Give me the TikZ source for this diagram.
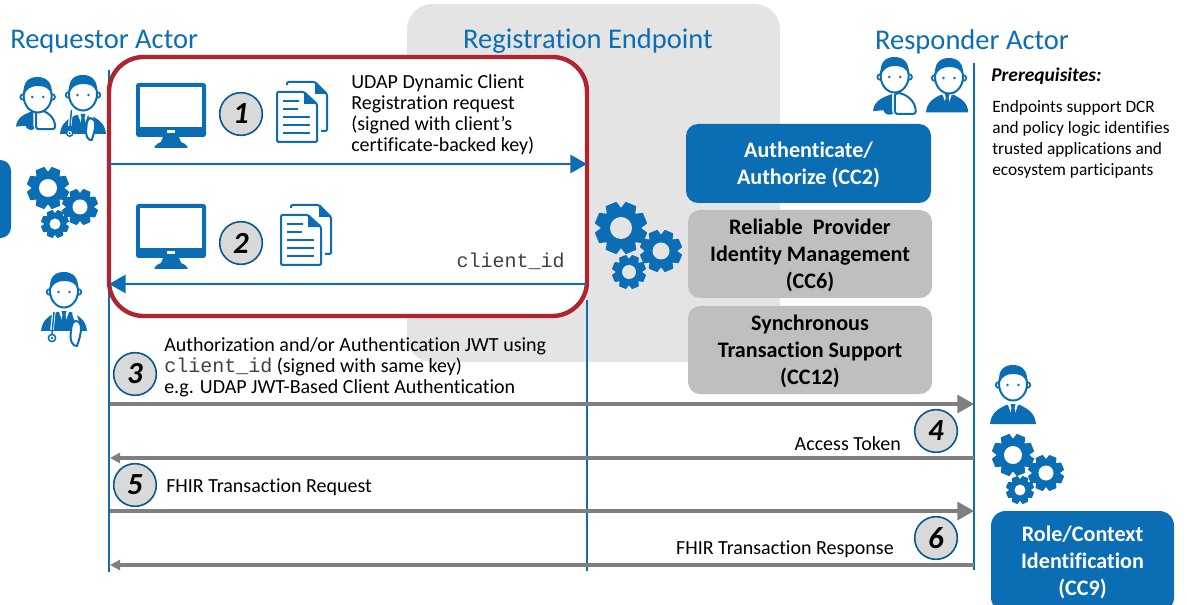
\documentclass[tikz,border=0pt]{standalone}
\usepackage{fontspec}
\setmainfont[Ligatures=CommonOff]{Carlito}
\setmonofont{Liberation Mono}
\usetikzlibrary{arrows.meta}
\definecolor{udapblue}{HTML}{0B6EB4}
\definecolor{udapred}{HTML}{B0232F}
\definecolor{udapgray}{HTML}{BFBFBF}
\definecolor{udaparrow}{HTML}{7F7F7F}
\definecolor{udapback}{HTML}{E4E4E4}
\tikzstyle{actor} = [text=udapblue, inner sep=0pt, font=\fontsize{21.4}{26}\selectfont]
\tikzstyle{label} = [inner sep=0pt, anchor=west, align=left, font=\fontsize{15}{15.9}\selectfont]
\tikzstyle{small} = [inner sep=0pt, anchor=north west, align=left, font=\fontsize{13}{15.8}\selectfont]
\tikzstyle{stepnum} = [circle, minimum size=32pt, inner sep=0pt, draw=udapblue!80!black, line width=1.2pt, fill=black!15, font=\fontsize{23}{24}\selectfont\bfseries\itshape]
\tikzstyle{bluebox} = [rectangle, rounded corners=9pt, minimum width=183.75pt, minimum height=59.25pt, align=center, fill=udapblue, text=white, inner sep=0pt, font=\fontsize{16.6}{20.3}\selectfont\bfseries]
\tikzstyle{graybox} = [rectangle, rounded corners=9pt, minimum width=183pt, minimum height=66pt, align=center, fill=udapgray, inner sep=0pt, font=\fontsize{16.6}{20.3}\selectfont\bfseries]
\tikzstyle{arrow} = [line width=2.2pt, udapblue, -{Triangle[length=12.5pt,width=13.5pt]}]
\tikzstyle{grayarrow} = [line width=2.4pt, udaparrow, -{Triangle[length=12.5pt,width=13.5pt]}]
\tikzstyle{backarrow} = [line width=2.4pt, udaparrow, -{Triangle[length=7.5pt,width=7.5pt]}]
\tikzstyle{lifeline} = [line width=1.5pt, udapblue]
\tikzset{
  gear/.pic={
    \fill[udapblue] (0,0) circle [radius=0.78];
    \foreach \a in {0,45,...,315}
      \fill[udapblue, rotate=\a+22.5, rounded corners=0.4pt] (0.62,-0.32) -- (1,-0.22) -- (1,0.22) -- (0.62,0.32) -- cycle;
  },
  monitor/.pic={
    \fill[udapblue, rounded corners=2pt] (0,0) rectangle (70,54);
    \fill[white] (4,4) rectangle (66,44);
    \fill[white] (31,47) rectangle (39,50);
    \fill[udapblue] (27,54) -- (43,54) -- (45,59) -- (49,61) .. controls (53,65) .. (47,65) -- (23,65) .. controls (17,65) .. (21,61) -- (25,59) -- cycle;
  },
  document/.pic={
    \draw[udapblue, line width=1.5pt, rounded corners=1pt] (10,3) -- (10,0) -- (38,0) -- (50,12) -- (50,49) -- (44,49);
    \fill[udapblue] (38,0) -- (50,12) -- (38,12) -- cycle;
    \draw[udapblue, line width=1.5pt, fill=white, rounded corners=1pt] (0,10) -- (27,10) -- (40,22) -- (40,60) -- (0,60) -- cycle;
    \fill[udapblue] (27,10) -- (40,22) -- (27,22) -- cycle;
    \foreach \y/\e in {19/22, 27/21, 35/33, 43/33, 51/33}
      \draw[udapblue, line width=1.5pt] (6,\y) -- (\e,\y);
  },
  face/.pic={
    \draw[udapblue, line width=1.3pt, fill=white] (8.5,20) circle [radius=2.8];
    \draw[udapblue, line width=1.3pt, fill=white] (37.5,20) circle [radius=2.8];
    \draw[udapblue, line width=1.5pt, fill=white] (23,19) ellipse [x radius=14, y radius=16.5];
    \fill[udapblue] (9.3,18) .. controls (7.5,4) and (15,0) .. (23,0) .. controls (32,0) and (38.5,6) .. (36.7,18) .. controls (35,11) and (30,9) .. (23,9) .. controls (16,9) and (12,12) .. (9.3,18) -- cycle;
    \fill[udapblue] (17.5,20) circle [radius=1.4];
    \fill[udapblue] (28.5,20) circle [radius=1.4];
  },
  suit/.pic={
    \fill[udapblue] (0,59) .. controls (1,48) and (8,44) .. (16,40) -- (30,40) .. controls (38,44) and (45,48) .. (46,59) -- cycle;
    \fill[white] (17,37) -- (29,37) -- (24,51) -- (22,51) -- cycle;
    \fill[udapblue] (20.5,39) -- (25.5,39) -- (24.5,43) -- (26,51) -- (23,56) -- (20,51) -- (21.5,43) -- cycle;
    \pic {face};
  },
  doctor/.pic={
    \pic {suit};
    \draw[white, line width=2.6pt] (13,39) -- (11,58);
    \draw[udapblue, line width=1.1pt] (13,40) -- (11,62);
    \draw[udapblue, line width=1.1pt, fill=white] (11,66) circle [radius=3.6];
    \fill[udapblue] (11,66) circle [radius=1.3];
    \draw[white, line width=3pt] (33,41) -- (36,50);
    \draw[udapblue, line width=1.5pt, fill=white] (35,49) .. controls (42,50) and (41,60) .. (36,74) .. controls (32,75) and (28,68) .. (30,60) .. controls (30,53) and (32,49) .. (35,49) -- cycle;
    \fill[white] (33,53) -- (38,53) -- (35,70) -- (32,68) -- cycle;
  },
  patient/.pic={
    \fill[udapblue] (0,57) .. controls (1,47) and (8,43) .. (20,39) -- (20,56) -- (21,60) .. controls (16,62) and (12,60) .. (11,56) -- cycle;
    \draw[udapblue, line width=1.5pt, fill=white, rounded corners=2pt] (23,38) .. controls (34,38) and (45,46) .. (45,60) -- (23,60) -- cycle;
    \fill[udapblue] (22,41) -- (33,31) -- (29,38) -- cycle;
    \pic[xshift=-1pt] {face};
  },
}
\begin{document}
\begin{tikzpicture}[x=0.75pt, y=-0.75pt]
	\useasboundingbox (0,0) rectangle (1187,605);
	\fill[udapback, rounded corners=19pt] (407,4) rectangle (780,362);

	\coordinate (req0) at (109,70);
	\coordinate (req1) at (109,572);
	\coordinate (reg0) at (587,300);
	\coordinate (reg1) at (587,571);
	\coordinate (res0) at (974,63);
	\coordinate (res1) at (974,570);
	\draw [lifeline] (req0) -- (req1);
	\draw [lifeline] (reg0) -- (reg1);
	\draw [lifeline] (res0) -- (res1);

	\node (dcr) [draw=udapred, line width=3.3pt, fill=white, rounded corners=26pt, minimum width=358.5pt, minimum height=194.25pt, inner sep=0pt] at (348,186.5) {};

	\node (requestor) [actor, anchor=west] at (10,41.5) {Requestor Actor};
	\node (endpoint) [actor] at (588,41.5) {Registration Endpoint};
	\node (responder) [actor] at (972,41.5) {Responder Actor};

	% icons
	\pic at (136,83) {monitor};
	\pic at (136,204) {monitor};
	\pic at (277,82) {document};
	\pic at (281,205) {document};
	\pic[scale=21] at (48,188) {gear};
	\pic[scale=18] at (80,207) {gear};
	\pic[scale=14] at (55,224) {gear};
	\fill[white] (48,188) circle [radius=9];
	\fill[white] (80,207) circle [radius=7.5];
	\fill[white] (55,224) circle [radius=5.5];
	\pic[scale=26] at (621,228) {gear};
	\pic[scale=21] at (661,251) {gear};
	\pic[scale=17] at (629,272) {gear};
	\fill[udapback] (621,228) circle [radius=11];
	\fill[udapback] (661,251) circle [radius=8.5];
	\fill[udapback] (629,272) circle [radius=7];
	\pic[scale=21] at (1013,455) {gear};
	\pic[scale=18] at (1046,473) {gear};
	\pic[scale=14] at (1020,490) {gear};
	\fill[white] (1013,455) circle [radius=9];
	\fill[white] (1046,473) circle [radius=7.5];
	\fill[white] (1020,490) circle [radius=5.5];
	\pic[scale=0.87] at (16,77) {patient};
	\pic[scale=0.88] at (60,75) {doctor};
	\pic at (41,272) {doctor};
	\pic[scale=0.95] at (873,57) {patient};
	\pic[scale=0.92] at (926,58) {suit};
	\pic at (990,365) {suit};

	% boxes
	\fill[udapblue, rounded corners=8pt] (-20,160) rectangle (11,238);
	\node (cc2) [bluebox, text height=34pt] at (808.5,163.5) {Authenticate/\\Authorize (CC2)};
	\node (cc6) [graybox, text height=54pt] at (810,254) {Reliable~~Provider\\Identity Management\\(CC6)};
	\node (cc12) [graybox, text height=54pt] at (810,350) {Synchronous\\Transaction Support\\(CC12)};
	\node (cc9) [bluebox, rounded corners=11pt, minimum width=137.25pt, minimum height=75.75pt, text height=53pt] at (1082.5,561.5) {Role/Context\\Identification\\(CC9)};

	% steps
	\node (s1) [stepnum] at (241,114) {1};
	\node (s2) [stepnum] at (241,243) {2};
	\node (s3) [stepnum] at (135,374) {3};
	\node (s4) [stepnum] at (936,431) {4};
	\node (s5) [stepnum] at (135,485) {5};
	\node (s6) [stepnum] at (936,538) {6};

	% texts
	\node (t1) [label] at (351,114.5) {UDAP Dynamic Client\\Registration request\\(signed with client’s\\certificate-backed key)};
	\node (t2) [label, anchor=east, text=black!75, font=\fontsize{15}{16}\ttfamily] at (565,261) {client\_id};
	\node (t3) [label] at (164,367) {Authorization and/or Authentication JWT using\\{\color{black!75}\ttfamily client\_id} (signed with same key)\\e.g. UDAP JWT-Based Client Authentication};
	\node (t4) [label, anchor=east] at (901,443.5) {Access Token};
	\node (t5) [label] at (166,487.5) {FHIR Transaction Request};
	\node (t6) [label, anchor=east] at (894,549.5) {FHIR Transaction Response};
	\node (pre) [small, font=\fontsize{14.6}{17}\selectfont\bfseries\itshape] at (991,68) {Prerequisites:};
	\node (pretext) [small] at (992,100) {Endpoints support DCR\\and policy logic identifies\\trusted applications and\\ecosystem participants};

	% messages
	\coordinate (m1a) at (109,164);
	\coordinate (m1b) at (587,164);
	\coordinate (m2a) at (587,284);
	\coordinate (m2b) at (109,284);
	\coordinate (m3a) at (110,404);
	\coordinate (m3b) at (974,404);
	\coordinate (m4a) at (974,458);
	\coordinate (m4b) at (110,458);
	\coordinate (m5a) at (110,511);
	\coordinate (m5b) at (974,511);
	\coordinate (m6a) at (974,565);
	\coordinate (m6b) at (110,565);
	\draw [arrow] (m1a) -- (m1b);
	\draw [arrow] (m2a) -- (m2b);
	\draw [grayarrow] (m3a) -- (m3b);
	\draw [backarrow] (m4a) -- (m4b);
	\draw [grayarrow] (m5a) -- (m5b);
	\draw [backarrow] (m6a) -- (m6b);
\end{tikzpicture}
\end{document}
